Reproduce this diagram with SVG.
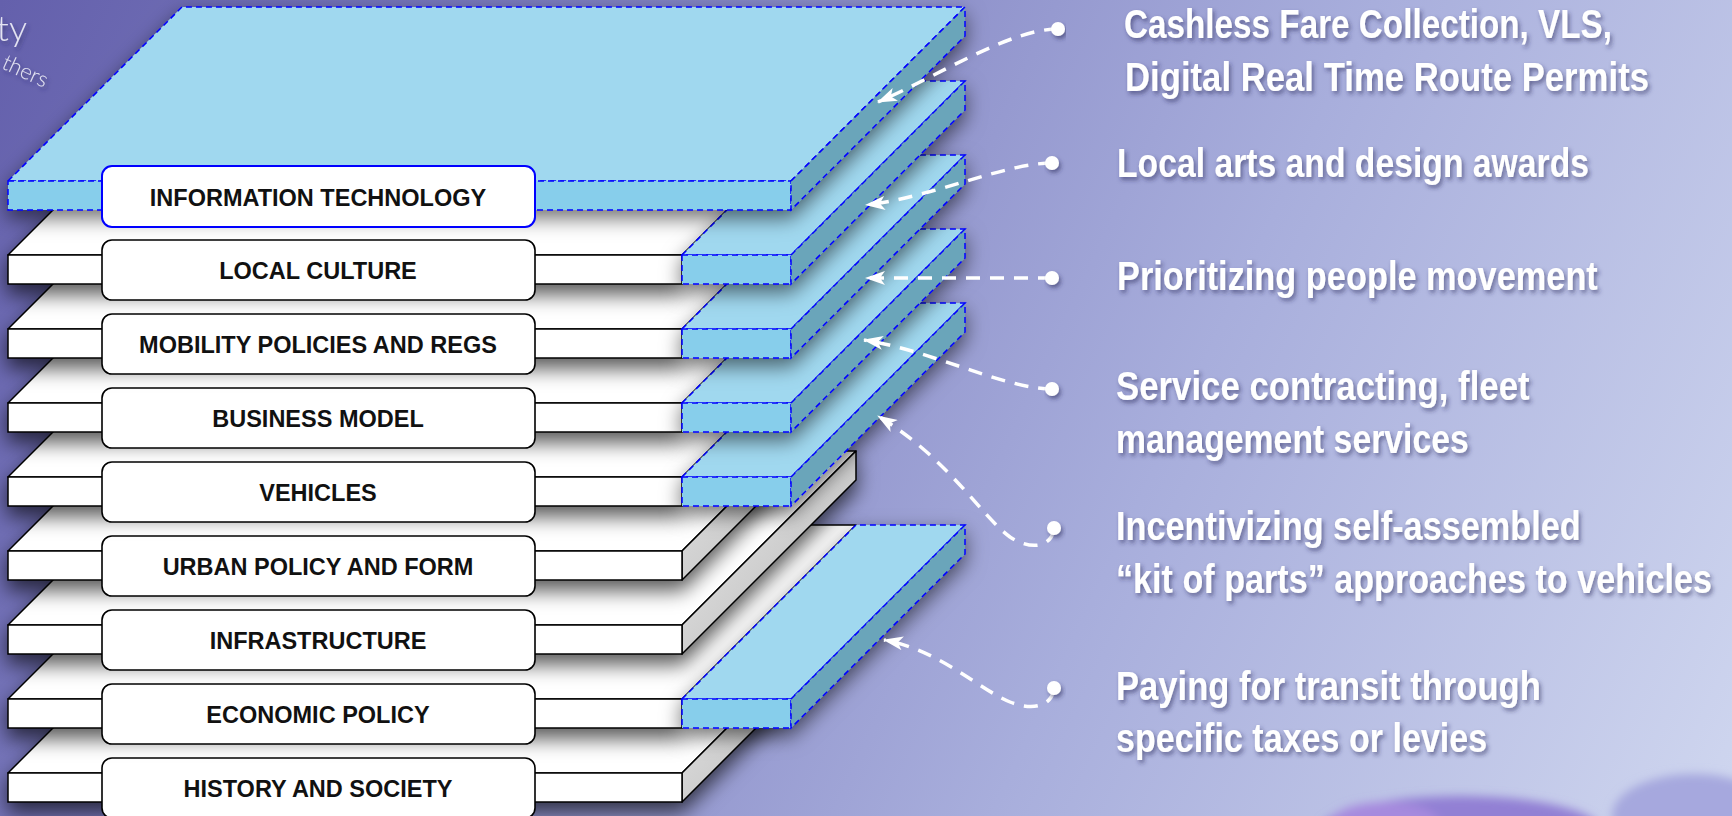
<svg xmlns="http://www.w3.org/2000/svg" width="1732" height="816" viewBox="0 0 1732 816">
<defs>
<linearGradient id="bg" x1="0" y1="0" x2="1732" y2="816" gradientUnits="userSpaceOnUse">
<stop offset="0" stop-color="#6460ac"/>
<stop offset="0.35" stop-color="#8486c4"/>
<stop offset="0.65" stop-color="#a8aedc"/>
<stop offset="1" stop-color="#cfd6ef"/>
</linearGradient>
<linearGradient id="side" x1="0" y1="0" x2="1" y2="1">
<stop offset="0" stop-color="#ececec"/>
<stop offset="1" stop-color="#b4b4b4"/>
</linearGradient>
<filter id="sh" x="-10%" y="-20%" width="120%" height="160%">
<feDropShadow dx="0" dy="10" stdDeviation="10" flood-color="#000000" flood-opacity="0.65"/>
</filter>
<filter id="bsh" x="-30%" y="-20%" width="160%" height="160%">
<feDropShadow dx="0" dy="8" stdDeviation="10" flood-color="#000000" flood-opacity="0.55"/>
</filter>
<filter id="tsh" x="-5%" y="-30%" width="110%" height="170%">
<feDropShadow dx="2" dy="3" stdDeviation="2" flood-color="#2a2a5a" flood-opacity="0.55"/>
</filter>
<filter id="blur" x="-30%" y="-100%" width="160%" height="300%">
<feGaussianBlur stdDeviation="5"/>
</filter>
<marker id="arr" markerUnits="userSpaceOnUse" markerWidth="20" markerHeight="14" viewBox="0 0 20 14" refX="19" refY="7" orient="auto">
<path d="M20,7 L0,0 L5,7 L0,14 Z" fill="#ffffff"/>
</marker>
<style>
.wt{fill:#ffffff;stroke:#000;stroke-width:1.5;stroke-linejoin:round}
.wf{fill:#ffffff;stroke:#000;stroke-width:1.5}
.ws{fill:url(#side);stroke:#000;stroke-width:1.5;stroke-linejoin:round}
.bt{fill:#a0d8ef;stroke:#0000ff;stroke-width:1.5;stroke-dasharray:6 4}
.bf{fill:#87ceeb;stroke:#0000ff;stroke-width:1.5;stroke-dasharray:6 4}
.bs{fill:#6ba5ba;stroke:#0000ff;stroke-width:1.5;stroke-dasharray:6 4}
.lbl{fill:#ffffff;stroke:#000;stroke-width:1.6}
.lblit{fill:#ffffff;stroke:#0000ff;stroke-width:2}
.lt{font-family:"Liberation Sans",Arial,sans-serif;font-weight:bold;font-size:23.5px;fill:#111;text-anchor:middle}
.rt{font-family:"Liberation Sans",Arial,sans-serif;font-weight:bold;font-size:40px;fill:#ffffff}
.logo{font-family:Lato,"Open Sans",sans-serif;font-weight:300;fill:#e4e4f2}
.con{fill:none;stroke:#ffffff;stroke-width:3.5;stroke-dasharray:14 10;marker-end:url(#arr)}
.dot{fill:#ffffff}
</style>
</defs>

<rect x="0" y="0" width="1732" height="816" fill="url(#bg)"/>
<g id="background-blobs" filter="url(#blur)">
<ellipse cx="1460" cy="830" rx="140" ry="34" fill="#9280d4"/>
<ellipse cx="1385" cy="824" rx="55" ry="22" fill="#a68ade"/>
<ellipse cx="1694" cy="816" rx="82" ry="42" fill="#a6a8de"/>
</g>
<g id="logo-fragment" filter="url(#tsh)">
<text class="logo" x="27" y="41" font-size="36" text-anchor="end">ty</text>
<text class="logo" font-size="22" text-anchor="end" transform="translate(44,88) rotate(25)">thers</text>
</g>

<!-- HISTORY AND SOCIETY y=773 -->
<g id="layer-history-society">
<g filter="url(#sh)">
<polygon class="wt" points="8,773 182,599 856,599 682,773"/>
<polygon class="ws" points="682,773 856,599 856,628 682,802"/>
<rect class="wf" x="8" y="773" width="674" height="29"/>
</g>
<rect class="lbl" x="102" y="758" width="433" height="60" rx="10"/>
<text class="lt" x="318" y="797">HISTORY AND SOCIETY</text>
</g>

<!-- ECONOMIC POLICY y=699 -->
<g id="layer-economic-policy">
<g filter="url(#sh)">
<polygon class="wt" points="8,699 182,525 856,525 682,699"/>
<rect class="wf" x="8" y="699" width="674" height="29"/>
</g>
<g filter="url(#bsh)">
<polygon class="bt" points="682,699 856,525 965,525 791,699"/>
<rect class="bf" x="682" y="699" width="109" height="29"/>
<polygon class="bs" points="791,699 965,525 965,554 791,728"/>
</g>
<rect class="lbl" x="102" y="684" width="433" height="60" rx="10"/>
<text class="lt" x="318" y="723">ECONOMIC POLICY</text>
</g>

<!-- INFRASTRUCTURE y=625 -->
<g id="layer-infrastructure">
<g filter="url(#sh)">
<polygon class="wt" points="8,625 182,451 856,451 682,625"/>
<polygon class="ws" points="682,625 856,451 856,480 682,654"/>
<rect class="wf" x="8" y="625" width="674" height="29"/>
</g>
<rect class="lbl" x="102" y="610" width="433" height="60" rx="10"/>
<text class="lt" x="318" y="649">INFRASTRUCTURE</text>
</g>

<!-- URBAN POLICY AND FORM y=551 -->
<g id="layer-urban-policy">
<g filter="url(#sh)">
<polygon class="wt" points="8,551 182,377 856,377 682,551"/>
<polygon class="ws" points="682,551 856,377 856,406 682,580"/>
<rect class="wf" x="8" y="551" width="674" height="29"/>
</g>
<rect class="lbl" x="102" y="536" width="433" height="60" rx="10"/>
<text class="lt" x="318" y="575">URBAN POLICY AND FORM</text>
</g>

<!-- VEHICLES y=477 -->
<g id="layer-vehicles">
<g filter="url(#sh)">
<polygon class="wt" points="8,477 182,303 856,303 682,477"/>
<rect class="wf" x="8" y="477" width="674" height="29"/>
</g>
<g filter="url(#bsh)">
<polygon class="bt" points="682,477 856,303 965,303 791,477"/>
<rect class="bf" x="682" y="477" width="109" height="29"/>
<polygon class="bs" points="791,477 965,303 965,332 791,506"/>
</g>
<rect class="lbl" x="102" y="462" width="433" height="60" rx="10"/>
<text class="lt" x="318" y="501">VEHICLES</text>
</g>

<!-- BUSINESS MODEL y=403 -->
<g id="layer-business-model">
<g filter="url(#sh)">
<polygon class="wt" points="8,403 182,229 856,229 682,403"/>
<rect class="wf" x="8" y="403" width="674" height="29"/>
</g>
<g filter="url(#bsh)">
<polygon class="bt" points="682,403 856,229 965,229 791,403"/>
<rect class="bf" x="682" y="403" width="109" height="29"/>
<polygon class="bs" points="791,403 965,229 965,258 791,432"/>
</g>
<rect class="lbl" x="102" y="388" width="433" height="60" rx="10"/>
<text class="lt" x="318" y="427">BUSINESS MODEL</text>
</g>

<!-- MOBILITY POLICIES AND REGS y=329 -->
<g id="layer-mobility-policies">
<g filter="url(#sh)">
<polygon class="wt" points="8,329 182,155 856,155 682,329"/>
<rect class="wf" x="8" y="329" width="674" height="29"/>
</g>
<g filter="url(#bsh)">
<polygon class="bt" points="682,329 856,155 965,155 791,329"/>
<rect class="bf" x="682" y="329" width="109" height="29"/>
<polygon class="bs" points="791,329 965,155 965,184 791,358"/>
</g>
<rect class="lbl" x="102" y="314" width="433" height="60" rx="10"/>
<text class="lt" x="318" y="353">MOBILITY POLICIES AND REGS</text>
</g>

<!-- LOCAL CULTURE y=255 -->
<g id="layer-local-culture">
<g filter="url(#sh)">
<polygon class="wt" points="8,255 182,81 856,81 682,255"/>
<rect class="wf" x="8" y="255" width="674" height="29"/>
</g>
<g filter="url(#bsh)">
<polygon class="bt" points="682,255 856,81 965,81 791,255"/>
<rect class="bf" x="682" y="255" width="109" height="29"/>
<polygon class="bs" points="791,255 965,81 965,110 791,284"/>
</g>
<rect class="lbl" x="102" y="240" width="433" height="60" rx="10"/>
<text class="lt" x="318" y="279">LOCAL CULTURE</text>
</g>

<!-- INFORMATION TECHNOLOGY y=181 -->
<g id="layer-information-technology">
<g filter="url(#bsh)">
<polygon class="bt" points="8,181 182,7 965,7 791,181"/>
<rect class="bf" x="8" y="181" width="783" height="29"/>
<polygon class="bs" points="791,181 965,7 965,36 791,210"/>
</g>
<rect class="lblit" x="102" y="166" width="433" height="61" rx="10"/>
<text class="lt" x="318" y="206">INFORMATION TECHNOLOGY</text>
</g>

<g id="connectors">
<path class="con" d="M1058,29 C1010,29 940,75 878,102"/>
<path class="con" d="M1052,163 C1005,163 930,198 866,205"/>
<path class="con" d="M1052,278 L866,278"/>
<path class="con" d="M1052,389 C1005,389 930,350 864,340"/>
<path class="con" d="M1054,530 C1050,548 1030,550 1010,537 C980,515 950,460 878,416"/>
<path class="con" d="M1054,690 C1050,708 1030,710 1010,702 C980,690 940,650 884,640"/>
<g filter="url(#tsh)">
<circle class="dot" cx="1058" cy="29" r="7"/>
<circle class="dot" cx="1052" cy="163" r="7"/>
<circle class="dot" cx="1052" cy="278" r="7"/>
<circle class="dot" cx="1052" cy="389" r="7"/>
<circle class="dot" cx="1054" cy="528" r="7"/>
<circle class="dot" cx="1054" cy="688" r="7"/>
</g>
</g>

<g id="annotations" filter="url(#tsh)">
<g id="note-it">
<text class="rt" transform="translate(1124,38) scale(0.8,1)" textLength="610" lengthAdjust="spacingAndGlyphs">Cashless Fare Collection, VLS,</text>
<text class="rt" transform="translate(1125,91) scale(0.8,1)" textLength="655" lengthAdjust="spacingAndGlyphs">Digital Real Time Route Permits</text>
</g>
<g id="note-culture">
<text class="rt" transform="translate(1117,177) scale(0.8,1)" textLength="590" lengthAdjust="spacingAndGlyphs">Local arts and design awards</text>
</g>
<g id="note-mobility">
<text class="rt" transform="translate(1117,290) scale(0.8,1)" textLength="601" lengthAdjust="spacingAndGlyphs">Prioritizing people movement</text>
</g>
<g id="note-business">
<text class="rt" transform="translate(1116,400) scale(0.8,1)" textLength="517" lengthAdjust="spacingAndGlyphs">Service contracting, fleet</text>
<text class="rt" transform="translate(1116,453) scale(0.8,1)" textLength="441" lengthAdjust="spacingAndGlyphs">management services</text>
</g>
<g id="note-vehicles">
<text class="rt" transform="translate(1116,540) scale(0.8,1)" textLength="581" lengthAdjust="spacingAndGlyphs">Incentivizing self-assembled</text>
<text class="rt" transform="translate(1116,593) scale(0.8,1)" textLength="745" lengthAdjust="spacingAndGlyphs">“kit of parts” approaches to vehicles</text>
</g>
<g id="note-economic">
<text class="rt" transform="translate(1116,700) scale(0.8,1)" textLength="531" lengthAdjust="spacingAndGlyphs">Paying for transit through</text>
<text class="rt" transform="translate(1116,752) scale(0.8,1)" textLength="464" lengthAdjust="spacingAndGlyphs">specific taxes or levies</text>
</g>
</g>
</svg>
